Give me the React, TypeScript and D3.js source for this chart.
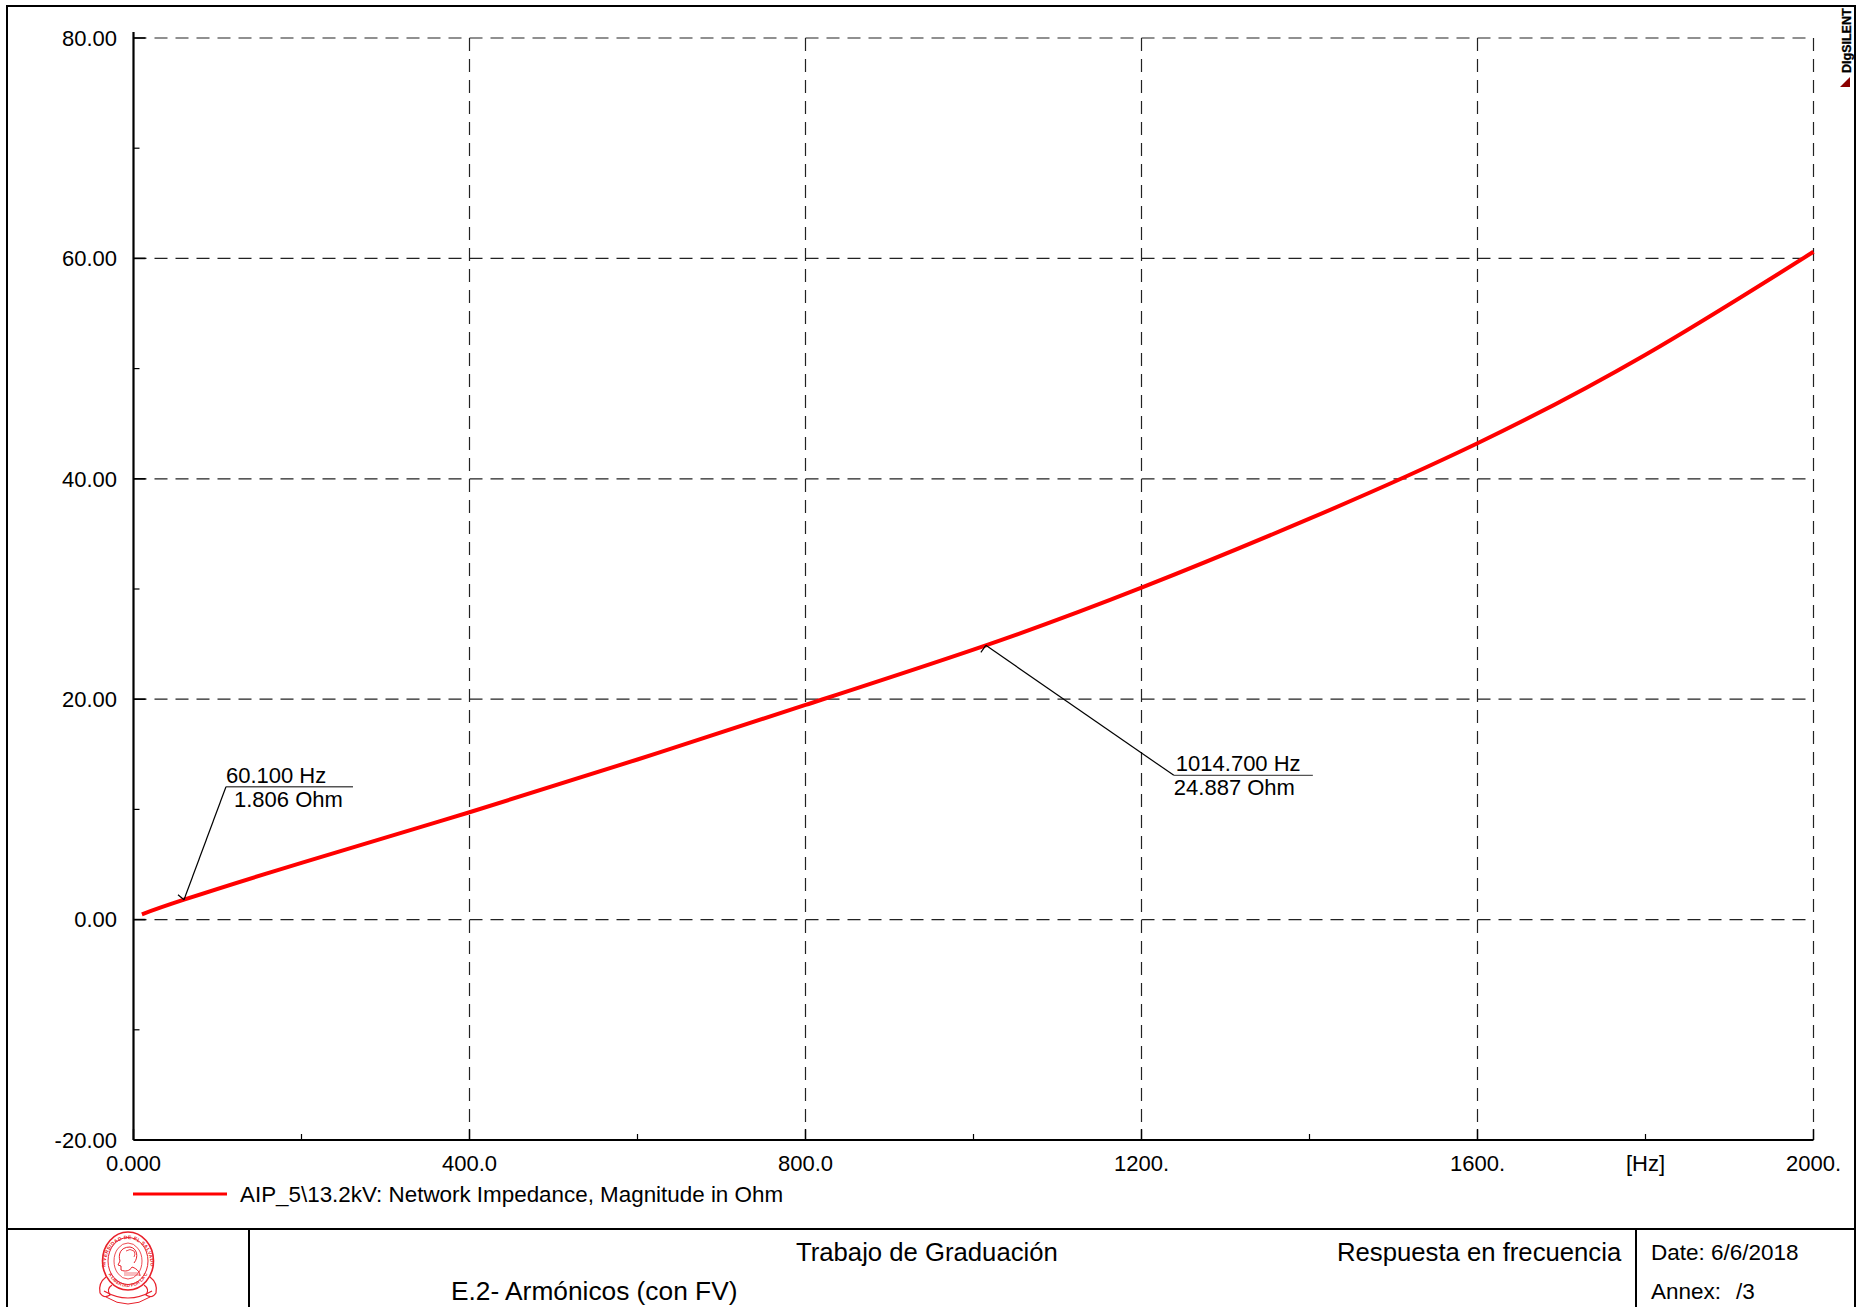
import React, { useEffect } from "react";
import * as d3 from "d3";

// ---- data ----
const freqHz = [10, 60.1, 200, 400, 600, 800, 1014.7, 1200, 1400, 1600, 1800, 2000];
const impedanceOhm = [0.48, 1.806, 5.15, 9.74, 14.53, 19.48, 24.887, 30.12, 36.38, 43.22, 51.26, 60.6];

const yMajorTicks = [-20, 0, 20, 40, 60, 80];
const yTickLabels = ["-20.00", "0.00", "20.00", "40.00", "60.00", "80.00"];
const yMinorTicks = [-10, 10, 30, 50, 70];
const xMajorTicks = [0, 400, 800, 1200, 1600, 2000];
const xMinorTicks = [200, 600, 1000, 1400, 1800];
const xLabelValues = [0, 400, 800, 1200, 1600, 1800, 2000];
const xTickLabels = ["0.000", "400.0", "800.0", "1200.", "1600.", "[Hz]", "2000."];

const legendLabel = "AIP_5\\13.2kV: Network Impedance, Magnitude in Ohm";

const markerFreqs = [60.1, 1014.7];
const markerValues = [1.806, 24.887];
const markerLines1 = ["60.100 Hz", "1014.700 Hz"];
const markerLines2 = ["1.806 Ohm", "24.887 Ohm"];

const W = 1862;
const H = 1307;
const FONT = "'Liberation Sans', Arial, Helvetica, sans-serif";

export default function App() {
  useEffect(() => {
    document.body.style.margin = "0";
    document.body.style.overflow = "hidden";
  }, []);

  const x = d3.scaleLinear().domain([0, 2000]).range([133.5, 1813.5]);
  const y = d3.scaleLinear().domain([-20, 80]).range([1140, 38]);

  const pts: [number, number][] = freqHz.map((f, i) => [f, impedanceOhm[i]]);
  const line = d3
    .line<[number, number]>()
    .x((d) => x(d[0]))
    .y((d) => y(d[1]))
    .curve(d3.curveNatural);

  const x0 = x(0);
  const x1 = x(2000);
  const yTop = y(80);
  const yBot = y(-20);

  // annotation layouts (offsets from marker point)
  const annot = [
    { kx: 42, ky: -113, len: 127, mark: [-6, -5], t1dx: 0, t2dx: 8 },
    { kx: 188, ky: 130, len: 139, mark: [-5, 7], t1dx: 2, t2dx: 0 },
  ];

  const dash = "13,8";
  const gridColor = "#222";

  // logo
  const lcx = 128;
  const lcy = 1261;

  return (
    <svg
      width={W}
      height={H}
      viewBox={`0 0 ${W} ${H}`}
      style={{ position: "absolute", left: 0, top: 0, display: "block", background: "#fff" }}
      fontFamily={FONT}
    >
      <rect x={0} y={0} width={W} height={H} fill="#fff" />
      {/* outer frame */}
      <rect x={7} y={6} width={1848} height={1330} fill="none" stroke="#000" strokeWidth={2} />

      {/* DIgSILENT logo */}
      <text
        transform={`translate(1850.5,73) rotate(-90)`}
        fontSize={12.5}
        fontWeight="bold"
        fill="#000"
        stroke="#000"
        strokeWidth={0.3}
      >
        DIgSILENT
      </text>
      <path d="M1840,87 L1850,87 L1850,77 Z" fill="#8b0000" />

      {/* horizontal grid */}
      {yMajorTicks
        .filter((v) => v !== -20)
        .map((v) => (
          <line key={"hg" + v} x1={x0} x2={x1} y1={y(v)} y2={y(v)} stroke={gridColor} strokeWidth={1.2} strokeDasharray={dash} />
        ))}
      {/* vertical grid */}
      {xMajorTicks
        .filter((v) => v !== 0)
        .map((v) => (
          <line key={"vg" + v} x1={x(v)} x2={x(v)} y1={yTop} y2={yBot} stroke={gridColor} strokeWidth={1.2} strokeDasharray={dash} />
        ))}

      {/* axes */}
      <line x1={x0} x2={x0} y1={yTop - 6} y2={yBot} stroke="#000" strokeWidth={2.2} />
      <line x1={x0} x2={x1} y1={yBot} y2={yBot} stroke="#000" strokeWidth={2.2} />

      {/* y ticks */}
      {yMajorTicks.map((v) => (
        <line key={"yt" + v} x1={x0} x2={x0 + 12} y1={y(v)} y2={y(v)} stroke="#000" strokeWidth={1.6} />
      ))}
      {yMinorTicks.map((v) => (
        <line key={"ym" + v} x1={x0} x2={x0 + 6} y1={y(v)} y2={y(v)} stroke="#000" strokeWidth={1.2} />
      ))}
      {yMajorTicks.map((v, i) => (
        <text key={"yl" + v} x={117} y={y(v) + 7.8} textAnchor="end" fontSize={22} fill="#000">
          {yTickLabels[i]}
        </text>
      ))}

      {/* x ticks */}
      {xMajorTicks.map((v) => (
        <line key={"xt" + v} x1={x(v)} x2={x(v)} y1={yBot} y2={yBot - 11} stroke="#000" strokeWidth={1.4} />
      ))}
      {xMinorTicks.map((v) => (
        <line key={"xm" + v} x1={x(v)} x2={x(v)} y1={yBot} y2={yBot - 6} stroke="#000" strokeWidth={1.2} />
      ))}
      {xLabelValues.map((v, i) => (
        <text key={"xl" + v} x={x(v)} y={1171} textAnchor="middle" fontSize={22} fill="#000">
          {xTickLabels[i]}
        </text>
      ))}

      {/* curve */}
      <path d={line(pts) || ""} fill="none" stroke="#ff0000" strokeWidth={4} strokeLinejoin="round" />

      {/* annotations */}
      {markerFreqs.map((f, i) => {
        const px = x(f);
        const py = y(markerValues[i]);
        const a = annot[i];
        const ex = px + a.kx;
        const ey = py + a.ky;
        return (
          <g key={"an" + i}>
            <line x1={px} y1={py} x2={ex} y2={ey} stroke="#000" strokeWidth={1.2} />
            <line x1={px} y1={py} x2={px + a.mark[0]} y2={py + a.mark[1]} stroke="#000" strokeWidth={1.2} />
            <line x1={ex} y1={ey} x2={ex + a.len} y2={ey} stroke="#555" strokeWidth={1.4} />
            <text x={ex + a.t1dx} y={ey - 4} fontSize={22} fill="#000">
              {markerLines1[i]}
            </text>
            <text x={ex + a.t2dx} y={ey + 20} fontSize={22} fill="#000">
              {markerLines2[i]}
            </text>
          </g>
        );
      })}

      {/* legend */}
      <line x1={133} x2={227} y1={1194} y2={1194} stroke="#ff0000" strokeWidth={3} />
      <text x={240} y={1202} fontSize={22.4} fill="#000">
        {legendLabel}
      </text>

      {/* title block */}
      <line x1={7} x2={1855} y1={1229} y2={1229} stroke="#000" strokeWidth={2} />
      <line x1={249} x2={249} y1={1229} y2={1320} stroke="#000" strokeWidth={2} />
      <line x1={1636} x2={1636} y1={1229} y2={1320} stroke="#000" strokeWidth={2} />
      <text x={796} y={1261} fontSize={25.7} fill="#000">Trabajo de Graduación</text>
      <text x={1337} y={1261} fontSize={25.7} fill="#000">Respuesta en frecuencia</text>
      <text x={451} y={1300} fontSize={26.3} fill="#000">E.2- Armónicos (con FV)</text>
      <text x={1651} y={1260} fontSize={22.5} fill="#000">Date: 6/6/2018</text>
      <text x={1651} y={1299} fontSize={22.5} fill="#000">Annex:</text>
      <text x={1736} y={1299} fontSize={22.5} fill="#000">/3</text>

      {/* university seal (simplified) */}
      <g stroke="#e8202a" fill="none">
        <ellipse cx={lcx} cy={lcy} rx={25.5} ry={29} strokeWidth={1.6} />
        <ellipse cx={lcx} cy={lcy} rx={20} ry={23.5} strokeWidth={1} />
        <ellipse cx={lcx} cy={lcy} rx={14} ry={18} strokeWidth={0.8} />
        {/* head profile */}
        <path
          d={`M${lcx + 2},${lcy - 14} C${lcx - 8},${lcy - 14} ${lcx - 10},${lcy - 6} ${lcx - 8},${lcy}
             L${lcx - 10},${lcy + 4} L${lcx - 7},${lcy + 5} L${lcx - 7},${lcy + 9}
             C${lcx - 3},${lcy + 11} ${lcx + 2},${lcy + 10} ${lcx + 4},${lcy + 6}
             C${lcx + 10},${lcy + 8} ${lcx + 12},${lcy + 12} ${lcx + 12},${lcy + 15}`}
          strokeWidth={1}
        />
        <path
          d={`M${lcx + 2},${lcy - 14} C${lcx + 9},${lcy - 13} ${lcx + 11},${lcy - 4} ${lcx + 6},${lcy + 2}`}
          strokeWidth={1}
        />
        <path d={`M${lcx - 2},${lcy - 10} q4,-3 8,0 q2,3 0,6`} strokeWidth={0.8} />
        <path d={`M${lcx - 4},${lcy + 12} l14,0 M${lcx - 4},${lcy + 14} l16,0`} strokeWidth={0.6} />
        {/* ribbons */}
        <path d={`M${lcx - 22},${lcy + 16} q-8,6 -6,16 q4,6 10,2 q-4,-6 2,-10`} strokeWidth={1.2} />
        <path d={`M${lcx + 22},${lcy + 16} q8,6 6,16 q-4,6 -10,2 q4,-6 -2,-10`} strokeWidth={1.2} />
        <path d={`M${lcx - 24},${lcy + 30} Q${lcx},${lcy + 44} ${lcx + 24},${lcy + 30}`} strokeWidth={1.2} />
        <path d={`M${lcx - 22},${lcy + 36} Q${lcx},${lcy + 50} ${lcx + 22},${lcy + 36}`} strokeWidth={1} />
      </g>
      <defs>
        <path id="sealArc" d={`M${lcx - 22.5},${lcy + 4} A22.5,26 0 1,1 ${lcx + 22.5},${lcy + 4}`} />
        <path id="sealArcB" d={`M${lcx - 20},${lcy + 12} A22.5,26 0 0,0 ${lcx + 20},${lcy + 12}`} />
      </defs>
      <text fontSize={5} fill="#e8202a" fontWeight="bold" letterSpacing={0.3}>
        <textPath href="#sealArc" startOffset="50%" textAnchor="middle">
          UNIVERSIDAD DE EL SALVADOR
        </textPath>
      </text>
      <text fontSize={4.5} fill="#e8202a" fontWeight="bold">
        <textPath href="#sealArcB" startOffset="50%" textAnchor="middle">
          HACIA LA LIBERTAD POR LA CULTURA
        </textPath>
      </text>
    </svg>
  );
}
